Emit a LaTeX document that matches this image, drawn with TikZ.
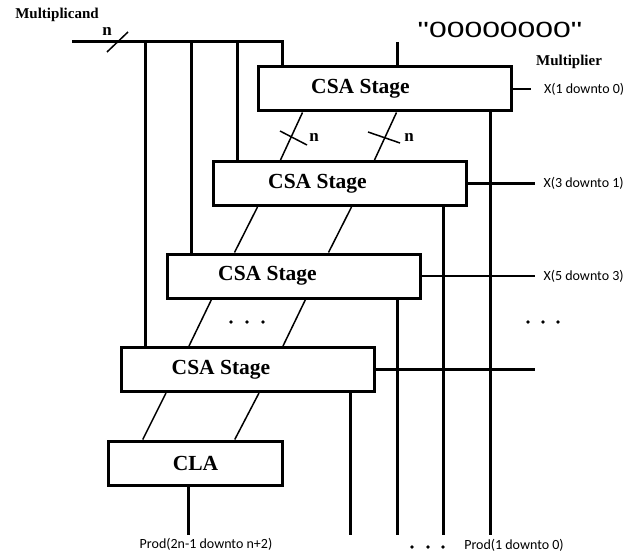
\documentclass[tikz,border=0pt]{standalone}
\usepackage{fontspec}
\setmainfont{Liberation Serif}
\newfontfamily\sigfont{Carlito}
\newfontfamily\zerofont{Liberation Sans}
\usetikzlibrary{positioning,calc}

\tikzset{
  stage/.style={draw, line width=3pt, minimum width=253pt, minimum height=44pt, inner sep=0pt},
  stagename/.style={font=\fontsize{21.5}{24}\selectfont\bfseries},
  bus/.style={line width=3pt},
  wire/.style={line width=1.5pt},
  xline/.style={line width=2.5pt},
  sig/.style={font=\fontsize{14}{16}\selectfont\sigfont},
  tag/.style={font=\fontsize{15}{17}\selectfont\bfseries},
  bitw/.style={font=\fontsize{17}{19}\selectfont\bfseries, inner sep=0pt},
}

\begin{document}
\begin{tikzpicture}[x=1pt, y=-1pt]
\useasboundingbox (0,0) rectangle (636,553);
% carry-save stages and final adder
\node[stage, label={[stagename, xshift=-24pt]center:CSA Stage}] (csa1) at (384.5,89) {};
\node[stage, label={[stagename, xshift=-22pt]center:CSA Stage}] (csa2) at (339.5,183.5) {};
\node[stage, label={[stagename, xshift=-26pt]center:CSA Stage}] (csa3) at (293.5,276) {};
\node[stage, label={[stagename, xshift=-27pt]center:CSA Stage}] (csa4) at (248,369.5) {};
\node[stage, minimum width=174.5pt, stagename] (cla) at (195.5,463) {CLA};

% multiplicand bus
\node[tag] (mcand) at (57,15) {Multiplicand};
\coordinate (mc) at (72,42);
\coordinate (t1) at (282,42);
\coordinate (t2) at (237,42);
\coordinate (t3) at (191,42);
\coordinate (t4) at (145,42);
\draw[bus] (mc) -- (t1) -- (t1 |- csa1.north);
\foreach \i in {2,3,4}
  \draw[bus] (t\i) -- (t\i |- csa\i.north);
\draw[wire] (107,52) -- (128,32);
\node[bitw] (nbus) at (107,31) {n};

% zero input
\node[font=\fontsize{22}{26}\selectfont\zerofont, xscale=1.45] (zeros) at (500,30) {"00000000"};
\coordinate (zr) at (397,42);
\draw[bus] (zr) -- (zr |- csa1.north);
\node[tag] (mplier) at (569,62) {Multiplier};

% sum and carry between stages
\foreach \a/\b in {1/2,2/3,3/4} {
  \draw[wire] ([xshift=46pt]csa\a.south west) -- ([xshift=69pt]csa\b.north west);
  \draw[wire] ([xshift=140pt]csa\a.south west) -- ([xshift=163pt]csa\b.north west);
}
\draw[wire] ([xshift=46pt]csa4.south west) -- ([xshift=36pt]cla.north west);
\draw[wire] ([xshift=139pt]csa4.south west) -- ([xshift=128pt]cla.north west);
\draw[wire] (280,131) -- (307,145);
\node[bitw] (nsum) at (314,137) {n};
\draw[wire] (368,132) -- (400,143);
\node[bitw] (ncar) at (409,137) {n};

% multiplier bits
\coordinate (xr) at (535,0);
\draw[xline] (csa1.east) -- ++(18,0) coordinate (x1);
\node[sig, right=10pt of x1] (x1lbl) {X(1 downto 0)};
\draw[xline] (csa2.east) -- (csa2.east -| xr) coordinate (x2);
\node[sig, right=5pt of x2] (x2lbl) {X(3 downto 1)};
\draw[xline] (csa3.east) -- (csa3.east -| xr) coordinate (x3);
\node[sig, right=5pt of x3] (x3lbl) {X(5 downto 3)};
\draw[xline] (csa4.east) -- (csa4.east -| xr);

% product outputs
\coordinate (o1) at (490,535);
\coordinate (o2) at (443,535);
\coordinate (o3) at (397,535);
\coordinate (o4) at (350,535);
\coordinate (o5) at (188,535);
\foreach \i in {1,...,4}
  \draw[bus] (o\i |- csa\i.south) -- (o\i);
\draw[bus] (o5 |- cla.south) -- (o5);
\node[sig] (prodhi) at (206,544) {Prod(2n-1 downto n+2)};
\node[sig] (prodlo) at (514,545) {Prod(1 downto 0)};

% ellipses
\foreach \x in {231,247,263} \fill (\x,322) circle (1.8pt);
\foreach \x in {528,543,558} \fill (\x,322) circle (1.8pt);
\foreach \x in {412,428,443} \fill (\x,547) circle (1.8pt);
\end{tikzpicture}
\end{document}
